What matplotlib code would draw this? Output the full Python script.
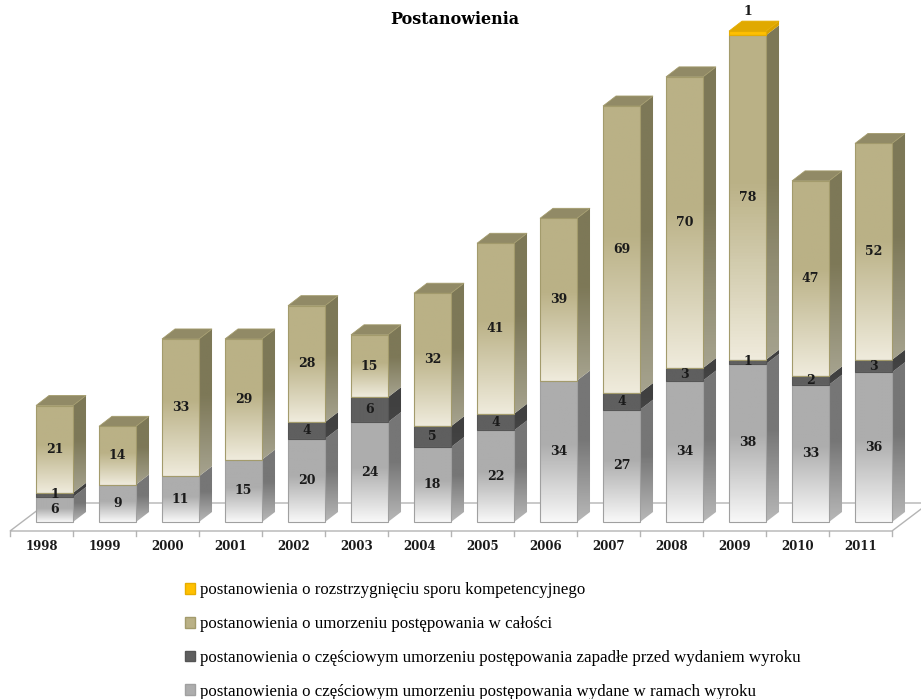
import matplotlib.pyplot as plt
import numpy as np
from matplotlib.patches import Polygon, Patch
from matplotlib.colors import to_rgb

years = ['1998', '1999', '2000', '2001', '2002', '2003', '2004',
         '2005', '2006', '2007', '2008', '2009', '2010', '2011']
w_ramach_wyroku = [6, 9, 11, 15, 20, 24, 18, 22, 34, 27, 34, 38, 33, 36]
przed_wyrokiem = [1, 0, 0, 0, 4, 6, 5, 4, 0, 4, 3, 1, 2, 3]
w_calosci = [21, 14, 33, 29, 28, 15, 32, 41, 39, 69, 70, 78, 47, 52]
spor_kompetencyjny = [0, 0, 0, 0, 0, 0, 0, 0, 0, 0, 0, 1, 0, 0]

labels = ['postanowienia o częściowym umorzeniu postępowania wydane w ramach wyroku',
          'postanowienia o częściowym umorzeniu postępowania zapadłe przed wydaniem wyroku',
          'postanowienia o umorzeniu postępowania w całości',
          'postanowienia o rozstrzygnięciu sporu kompetencyjnego']

# front top, front bottom, side top, side bottom, top face, edge
styles = [
    ('#adadad', '#f8f8f8', '#767676', '#b8b8b8', '#9a9a9a', '#a0a0a0'),
    ('#5f5f5f', '#5f5f5f', '#404040', '#454545', '#505050', '#555555'),
    ('#bab186', '#efebdc', '#7d7857', '#a6a38f', '#918a66', '#a39b6c'),
    ('#ffc000', '#ffc000', '#d9a300', '#d9a300', '#e0a900', '#e6ad00'),
]

series = [w_ramach_wyroku, przed_wyrokiem, w_calosci, spor_kompetencyjny]

px_y = 4.16          # pixels per unit, used only for the pseudo-3D offsets
shift = 13 / 63      # bar front offset from category centre
width = 37 / 63
dx, dy = 13 / 63, 10 / px_y
serif = 'DejaVu Serif'


def gradient(top, bottom, n=100):
    t = np.clip((np.linspace(0, 1, n) - 0.45) / 0.55, 0, 1)[:, None]
    c0, c1 = np.array(to_rgb(top)), np.array(to_rgb(bottom))
    return (c0 * (1 - t) + c1 * t)[:, None, :]


fig = plt.figure(figsize=(9.21, 6.99), dpi=100)
ax = fig.add_axes([0, 0, 1, 1])
ax.set_xlim(-0.659, 13.96)
ax.set_ylim((522 - 699) / px_y, 522 / px_y)
ax.axis('off')

# floor
n = len(years)
fy0, fdx, fdy = -9 / px_y, 37 / 63, 28 / px_y
floor = Polygon([(-0.5, fy0), (n - 0.5, fy0), (n - 0.5 + fdx, fy0 + fdy), (-0.5 + fdx, fy0 + fdy)],
                closed=True, facecolor='white', edgecolor='#b4b4b4', lw=1, zorder=0)
ax.add_patch(floor)
for i in range(n + 1):
    ax.plot([i - 0.5, i - 0.5], [fy0, fy0 - 1.3], color='#b4b4b4', lw=1, zorder=0)

x = np.arange(n)
bottom = np.zeros(n)
totals = np.sum(series, axis=0)
for values, (ft, fb, st, sb, tc, ec) in zip(series, styles):
    values = np.array(values, dtype=float)
    bars = ax.bar(x + shift, values, width, bottom=bottom, color='none', edgecolor='none', zorder=2)
    for i, (bar, v) in enumerate(zip(bars, values)):
        if v == 0:
            continue
        x0, x1 = bar.get_x(), bar.get_x() + bar.get_width()
        b, t = bottom[i], bottom[i] + v
        im = ax.imshow(gradient(ft, fb), extent=(x0, x1, b, t), aspect='auto', zorder=2)
        im.set_clip_path(bar)
        side = Polygon([(x1, b), (x1 + dx, b + dy), (x1 + dx, t + dy), (x1, t)], closed=True,
                       facecolor='none', edgecolor='none', zorder=2)
        ax.add_patch(side)
        ims = ax.imshow(gradient(st, sb), extent=(x1, x1 + dx, b, t + dy), aspect='auto', zorder=2)
        ims.set_clip_path(side)
        ax.add_patch(Polygon([(x0, b), (x1, b), (x1, t), (x0, t)], closed=True,
                             facecolor='none', edgecolor=ec, lw=0.8, zorder=3))
        if abs(t - totals[i]) < 1e-9:
            ax.add_patch(Polygon([(x0, t), (x1, t), (x1 + dx, t + dy), (x0 + dx, t + dy)], closed=True,
                                 facecolor=tc, edgecolor=ec, lw=0.6, zorder=3))
        ly = (b + t) / 2
        if ft == '#ffc000':
            ly = t + dy + 2.3
        ax.text(x0 + width / 2, ly, f'{int(v)}', ha='center', va='center', fontsize=9,
                fontweight='bold', family=serif, color='#1a1a1a', zorder=4)
    bottom += values

for i, yr in enumerate(years):
    ax.text(i, -25 / px_y, yr, ha='center', va='center', fontsize=8.5, fontweight='bold',
            family=serif, color='#1a1a1a')

fig.text(455 / 921, 1 - 20 / 699, 'Postanowienia', ha='center', va='center', fontsize=11.5,
         fontweight='bold', family=serif)

handles = [Patch(facecolor=s[0], edgecolor=s[5]) for s in styles][::-1]
fig.legend(handles, labels[::-1], loc='upper left', bbox_to_anchor=(182 / 921, 1 - 579 / 699),
           frameon=False, handlelength=0.55, handleheight=0.6, handletextpad=0.3,
           labelspacing=1.05, borderaxespad=0, borderpad=0.2,
           prop={'family': 'Liberation Serif', 'size': 12.2})

fig.savefig('out.png', dpi=100)
